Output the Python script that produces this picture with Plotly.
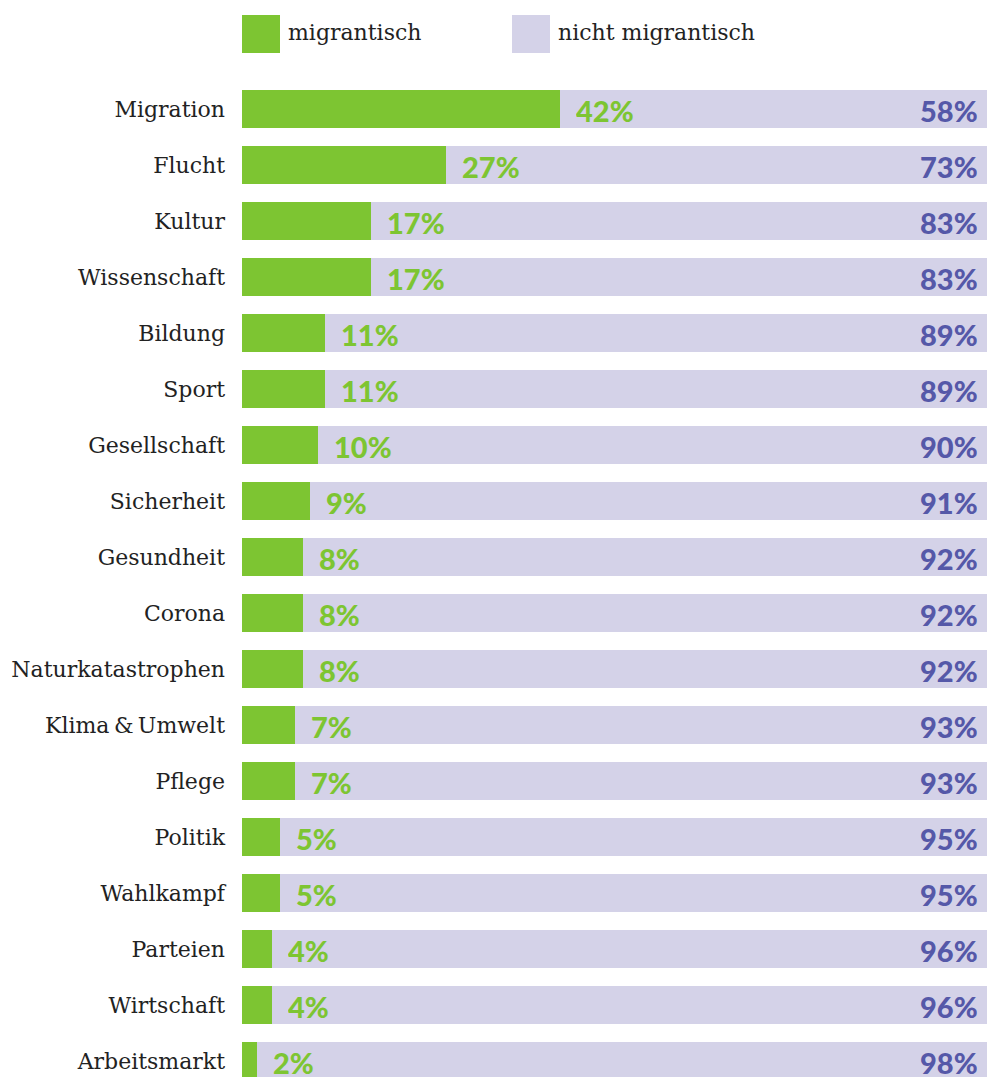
import plotly.graph_objects as go

categories = ["Migration", "Flucht", "Kultur", "Wissenschaft", "Bildung", "Sport",
              "Gesellschaft", "Sicherheit", "Gesundheit", "Corona", "Naturkatastrophen",
              "Klima\u2009&\u2009Umwelt", "Pflege", "Politik", "Wahlkampf", "Parteien",
              "Wirtschaft", "Arbeitsmarkt"]
migrantisch = [42, 27, 17, 17, 11, 11, 10, 9, 8, 8, 8, 7, 7, 5, 5, 4, 4, 2]
nicht_migrantisch = [58, 73, 83, 83, 89, 89, 90, 91, 92, 92, 92, 93, 93, 95, 95, 96, 96, 98]
series_names = ["migrantisch", "nicht migrantisch"]

GREEN = "#7DC532"
LAVENDER = "#D4D2E8"
BLUE = "#5558A8"
W, H = 987, 1077
L, R, T, B = 242, 0, 81, 0
PW, PH = W - L - R, H - T - B

def px(x):
    return (x - L) / PW

def py(y):
    return (H - B - y) / PH

fig = go.Figure()
fig.add_trace(go.Bar(y=categories, x=migrantisch, orientation="h", name=series_names[0],
                     marker=dict(color=GREEN, line=dict(width=0)), hoverinfo="x+y"))
fig.add_trace(go.Bar(y=categories, x=nicht_migrantisch, orientation="h", name=series_names[1],
                     marker=dict(color=LAVENDER, line=dict(width=0)), hoverinfo="x+y"))

ann = []
for c, m, n in zip(categories, migrantisch, nicht_migrantisch):
    ann.append(dict(x=m, y=c, xref="x", yref="y", text=f"{m}%", showarrow=False,
                    xanchor="left", yanchor="middle", xshift=14, yshift=-1,
                    height=30, valign="middle",
                    font=dict(family="Lato", size=29, color=GREEN, weight=900)))
    ann.append(dict(x=px(980), y=c, xref="paper", yref="y", text=f"{n}%", showarrow=False,
                    xanchor="right", yanchor="middle", yshift=-1,
                    height=30, valign="middle",
                    font=dict(family="Lato", size=29, color=BLUE, weight=900)))

# legend
shapes = []
leg = [(242, GREEN, series_names[0]), (512, LAVENDER, series_names[1])]
for x0, col, name in leg:
    shapes.append(dict(type="rect", xref="paper", yref="paper", x0=px(x0), x1=px(x0 + 38),
                       y0=py(53), y1=py(15), fillcolor=col, line=dict(width=0)))
    ann.append(dict(x=px(x0 + 44), y=py(32), xref="paper", yref="paper", text=name,
                    showarrow=False, xanchor="left", yanchor="middle",
                    font=dict(family="DejaVu Serif", size=22, color="#222222")))

fig.update_layout(
    width=W, height=H,
    margin=dict(l=L, r=R, t=T, b=B, pad=0),
    barmode="stack", bargap=0.32,
    plot_bgcolor="white", paper_bgcolor="white",
    showlegend=False,
    xaxis=dict(range=[0, PW / 757 * 100], visible=False, fixedrange=True),
    yaxis=dict(categoryorder="array", categoryarray=categories,
               range=[-0.5 + PH / 56, -0.5], showgrid=False, zeroline=False,
               showline=False, ticks="", ticklabelstandoff=16, fixedrange=True,
               tickfont=dict(family="DejaVu Serif", size=22, color="#222222")),
    annotations=ann, shapes=shapes,
)
fig.write_html("out.html", config={"displayModeBar": False},
               post_script="document.body.style.margin='0';document.body.style.overflow='hidden';")
